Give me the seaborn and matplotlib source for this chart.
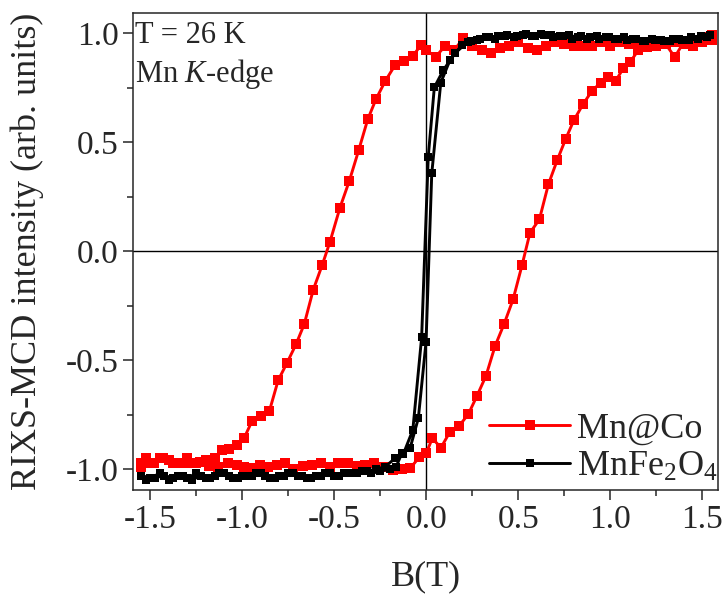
import numpy as np
import pandas as pd
import matplotlib
matplotlib.use("Agg")
import matplotlib.pyplot as plt
import seaborn as sns

# ---------------- data ----------------
# Mn@Co, field sweep down (+1.55 -> -1.55)
red_down_B = [1.55, 1.50, 1.45, 1.40, 1.35, 1.30, 1.25, 1.20, 1.15, 1.10, 1.05, 1.00,
              0.95, 0.90, 0.85, 0.80, 0.75, 0.70, 0.65, 0.60, 0.55, 0.50, 0.45, 0.40,
              0.35, 0.30, 0.25, 0.20, 0.15, 0.10, 0.05, 0.00, -0.03, -0.074, -0.122,
              -0.171, -0.223, -0.274, -0.319, -0.368, -0.419, -0.470, -0.524, -0.566,
              -0.615, -0.664, -0.709, -0.759, -0.806, -0.854, -0.901, -0.948, -0.990,
              -1.031, -1.074, -1.109, -1.149, -1.20, -1.25, -1.30, -1.35, -1.40, -1.45,
              -1.50, -1.55]
red_down_I = [0.99, 0.96, 0.94, 0.96, 0.89, 0.95, 0.94, 0.95, 0.96, 0.95, 0.96, 0.94,
              0.96, 0.94, 0.94, 0.94, 0.95, 0.96, 0.94, 0.92, 0.93, 0.96, 0.94, 0.93,
              0.91, 0.92, 0.94, 0.976, 0.92, 0.94, 0.89, 0.922, 0.945, 0.894, 0.873,
              0.852, 0.781, 0.697, 0.604, 0.463, 0.322, 0.199, 0.043, -0.063,
              -0.177, -0.335, -0.428, -0.515, -0.593, -0.735, -0.757, -0.780, -0.856,
              -0.891, -0.907, -0.913, -0.950, -0.96, -0.97, -0.95, -0.97, -0.96, -0.95,
              -0.97, -0.99]
# Mn@Co, field sweep up (-1.55 -> +1.55)
red_up_B = [-1.55, -1.524, -1.479, -1.43, -1.376, -1.327, -1.276, -1.23, -1.18, -1.131,
            -1.08, -1.03, -0.99, -0.95, -0.904, -0.86, -0.81, -0.769, -0.723, -0.67,
            -0.62, -0.575, -0.524, -0.479, -0.428, -0.38, -0.334, -0.283, -0.23, -0.18,
            -0.135, -0.089, -0.039, 0.0, 0.032, 0.079, 0.128, 0.177, 0.228, 0.275,
            0.324, 0.373, 0.422, 0.471, 0.520, 0.563, 0.614, 0.663, 0.711, 0.757,
            0.802, 0.851, 0.900, 0.947, 0.989, 1.029, 1.070, 1.107, 1.152, 1.197,
            1.25, 1.30, 1.35, 1.40, 1.45, 1.50, 1.55]
red_up_I = [-0.97, -0.951, -0.974, -0.951, -0.974, -0.974, -0.974, -0.966, -0.985, -0.99,
            -0.974, -0.98, -0.99, -0.997, -0.982, -0.99, -0.98, -0.97, -1.0, -0.985,
            -0.98, -0.974, -0.99, -0.97, -0.97, -0.985, -0.98, -0.974, -0.99, -1.005,
            -1.0, -0.997, -0.946, -0.925, -0.859, -0.902, -0.829, -0.803, -0.748, -0.664,
            -0.572, -0.436, -0.335, -0.222, -0.064, 0.084, 0.145, 0.306, 0.417, 0.514,
            0.601, 0.673, 0.735, 0.772, 0.799, 0.781, 0.838, 0.866, 0.922, 0.937,
            0.94, 0.95, 0.96, 0.95, 0.97, 0.98, 0.97]

# MnFe2O4, field sweep up (-1.55 -> +1.55)
blk_up_B = [-1.55, -1.50, -1.45, -1.40, -1.35, -1.30, -1.25, -1.20, -1.15, -1.10, -1.05,
            -1.00, -0.95, -0.90, -0.85, -0.80, -0.75, -0.70, -0.65, -0.60, -0.55, -0.50,
            -0.45, -0.40, -0.35, -0.30, -0.25, -0.20, -0.165, -0.134, -0.089, -0.044,
            -0.002, 0.029, 0.078, 0.128, 0.192, 0.24, 0.29, 0.34, 0.39, 0.44, 0.49,
            0.54, 0.59, 0.64, 0.69, 0.74, 0.79, 0.84, 0.89, 0.94, 0.99, 1.04, 1.09,
            1.14, 1.19, 1.24, 1.29, 1.34, 1.39, 1.44, 1.49, 1.54]
blk_up_I = [-1.03, -1.04, -1.02, -1.05, -1.03, -1.04, -1.02, -1.04, -1.03, -1.02, -1.04,
            -1.03, -1.03, -1.02, -1.04, -1.03, -1.02, -1.03, -1.04, -1.03, -1.02, -1.03,
            -1.02, -1.02, -1.01, -1.02, -1.01, -1.00, -0.99, -0.928, -0.905, -0.767,
            -0.416, 0.356, 0.772, 0.876, 0.945, 0.965, 0.975, 0.98, 0.985, 0.99, 0.985,
            0.995, 0.985, 0.99, 0.98, 0.985, 0.975, 0.985, 0.98, 0.975, 0.98, 0.975, 0.97,
            0.975, 0.965, 0.97, 0.965, 0.975, 0.97, 0.98, 0.985, 0.99]
# MnFe2O4, field sweep down (+1.55 -> -1.55)
blk_down_B = [1.525, 1.475, 1.425, 1.375, 1.325, 1.275, 1.225, 1.175, 1.125, 1.075, 1.025,
              0.975, 0.925, 0.875, 0.825, 0.775, 0.725, 0.675, 0.625, 0.575, 0.525, 0.475,
              0.425, 0.375, 0.325, 0.275, 0.225, 0.155, 0.092, 0.043, 0.010, -0.026,
              -0.074, -0.125, -0.171, -0.225, -0.275, -0.325, -0.375, -0.425, -0.475,
              -0.525, -0.575, -0.625, -0.675, -0.725, -0.775, -0.825, -0.875, -0.925,
              -0.975, -1.025, -1.075, -1.125, -1.175, -1.225, -1.275, -1.325, -1.375,
              -1.425, -1.475, -1.525]
blk_down_I = [0.98, 0.975, 0.97, 0.975, 0.965, 0.97, 0.975, 0.965, 0.975, 0.98, 0.975,
              0.98, 0.985, 0.975, 0.98, 0.99, 0.985, 0.99, 0.995, 0.985, 0.99, 0.98,
              0.985, 0.975, 0.98, 0.97, 0.96, 0.907, 0.830, 0.751, 0.433, -0.396,
              -0.821, -0.93, -0.951, -0.99, -1.00, -1.01, -1.02, -1.02, -1.03,
              -1.02, -1.03, -1.04, -1.03, -1.02, -1.03, -1.04, -1.03, -1.02,
              -1.03, -1.04, -1.03, -1.02, -1.04, -1.03, -1.05, -1.03, -1.04,
              -1.03, -1.04, -1.05]

labels = ["Mn@Co", "MnFe$_2$O$_4$"]
colors = ["#ff0000", "#000000"]
x_ticks = [-1.5, -1.0, -0.5, 0.0, 0.5, 1.0, 1.5]
y_ticks = [-1.0, -0.5, 0.0, 0.5, 1.0]

# ---------------- style ----------------
sns.set_style("ticks")
plt.rcParams["font.family"] = ["Liberation Serif", "DejaVu Serif"]
plt.rcParams["mathtext.fontset"] = "custom"
plt.rcParams["mathtext.rm"] = "Liberation Serif"
plt.rcParams["mathtext.it"] = "Liberation Serif:italic"
plt.rcParams["axes.unicode_minus"] = False

fig = plt.figure(figsize=(7.26, 5.98), dpi=100)
ax = fig.add_axes([133 / 726, 1 - 490 / 598, (718 - 133) / 726, (490 - 13) / 598])

red_df = pd.DataFrame({"B": red_down_B + red_up_B, "I": red_down_I + red_up_I})
blk_df = pd.DataFrame({"B": blk_up_B + blk_down_B, "I": blk_up_I + blk_down_I})

ax.axhline(0, color="black", lw=1.0, zorder=1)
ax.axvline(0, color="black", lw=1.0, zorder=1)

sns.lineplot(data=red_df, x="B", y="I", sort=False, estimator=None, ax=ax,
             color=colors[0], lw=2.1, marker="s", markersize=7.0, markeredgewidth=0,
             label=labels[0], zorder=3)
sns.lineplot(data=blk_df, x="B", y="I", sort=False, estimator=None, ax=ax,
             color=colors[1], lw=2.1, marker="s", markersize=6.2, markeredgewidth=0,
             label=labels[1], zorder=4)

ax.set_xlim(-1.595, 1.585)
ax.set_ylim(-1.096, 1.092)
ax.set_xticks(x_ticks)
ax.set_yticks(y_ticks)
ax.set_xticklabels([f"{v:.1f}" for v in x_ticks])
ax.set_yticklabels([f"{v:.1f}" for v in y_ticks])
ax.set_xticks(np.arange(-1.5, 1.51, 0.25), minor=True)
ax.set_yticks(np.arange(-1.0, 1.01, 0.25), minor=True)
ax.tick_params(which="major", direction="out", length=7, width=1.1, labelsize=24,
               top=False, right=False)
ax.tick_params(which="minor", direction="out", length=4, width=1.1, top=False, right=False)
for s in ax.spines.values():
    s.set_linewidth(1.1)
    s.set_visible(True)

ax.set_xlabel("B(T)", fontsize=26)
ax.set_ylabel("RIXS-MCD intensity (arb. units)", fontsize=26)
ax.xaxis.set_label_coords(0.5, -(560 - 490) / 477)
ax.yaxis.set_label_coords((44 - 133) / 585, 0.5)

ax.text(0.004, 1 - (43 - 13) / 477, "T = 26 K", transform=ax.transAxes,
        fontsize=22, va="baseline", ha="left")
ax.text(0.004, 1 - (82 - 13) / 477, "Mn $K$-edge", transform=ax.transAxes,
        fontsize=22, va="baseline", ha="left")

leg = ax.legend(loc="lower left", bbox_to_anchor=((489 - 133) / 585, (490 - 484) / 477),
                frameon=False, fontsize=26, handlelength=2.25, handletextpad=0.2,
                labelspacing=0.15, borderpad=0, borderaxespad=0)

fig.savefig("out.png", dpi=100)
